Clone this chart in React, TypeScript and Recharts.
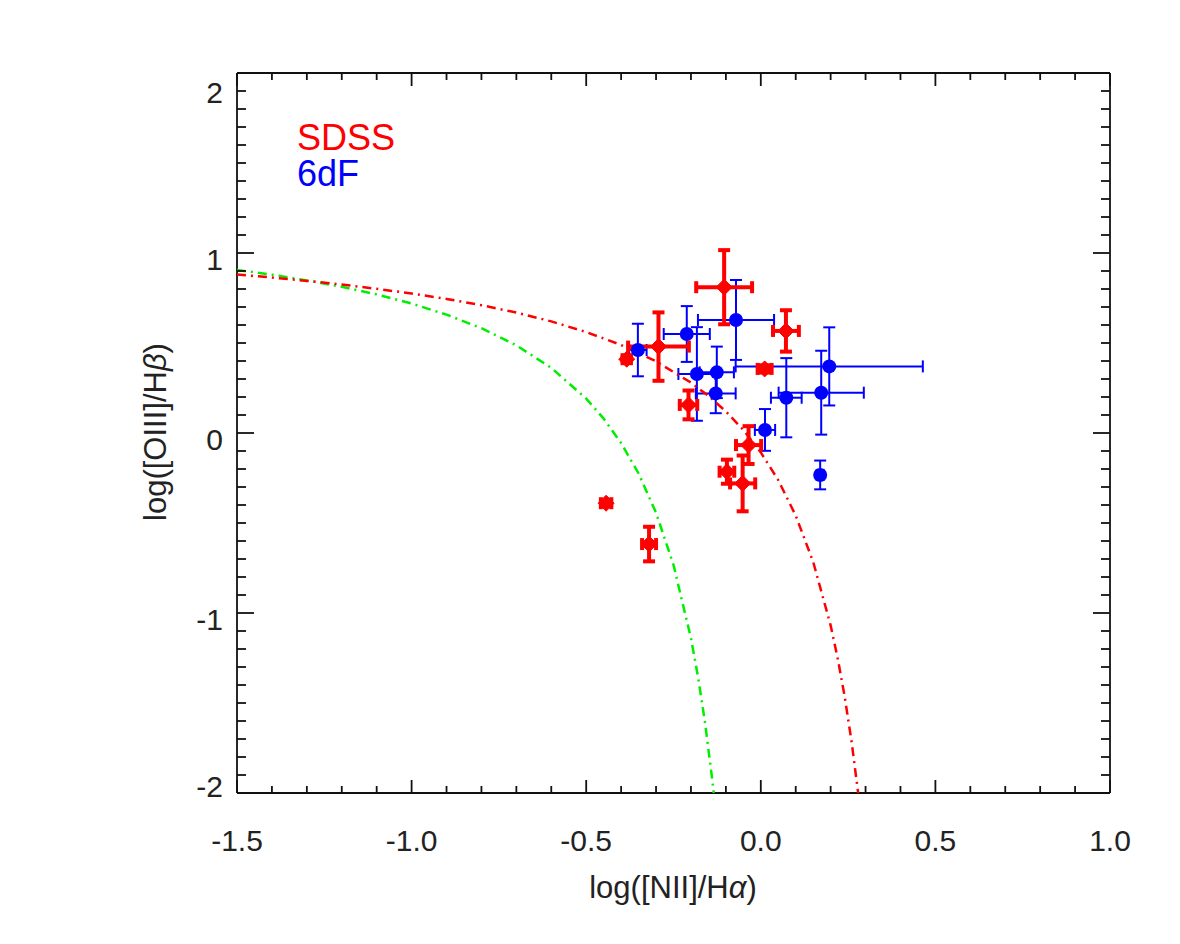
import React from 'react';
import { ScatterChart, Scatter, XAxis, YAxis, ErrorBar } from 'recharts';

// ---- data ----
const sdssX = [-0.105, 0.072, -0.293, -0.384, 0.011, -0.207, -0.035, -0.097, -0.052, -0.443, -0.320];
const sdssY = [0.81, 0.567, 0.48, 0.41, 0.356, 0.156, -0.067, -0.215, -0.28, -0.39, -0.617];
const sdssEx = [0.08, 0.037, 0.087, 0.012, 0.02, 0.025, 0.036, 0.021, 0.036, 0.015, 0.02];
const sdssEy = [0.206, 0.115, 0.19, 0.012, 0.02, 0.08, 0.105, 0.067, 0.155, 0.012, 0.096];

const sixdfX = [-0.352, -0.212, -0.071, -0.183, -0.126, -0.129, 0.012, 0.073, 0.173, 0.196, 0.170];
const sixdfY = [0.461, 0.55, 0.628, 0.328, 0.337, 0.22, 0.017, 0.196, 0.224, 0.37, -0.233];
const sixdfEx = [0.025, 0.066, 0.109, 0.053, 0.049, 0.057, 0.029, 0.044, 0.122, 0.268, 0.01];
const sixdfEy = [0.146, 0.155, 0.222, 0.26, 0.143, 0.11, 0.116, 0.22, 0.233, 0.217, 0.08];

// red dash-dot demarcation curve (upper)
const redCurveX = [-1.5, -1.4, -1.3, -1.2, -1.1, -1.0, -0.9, -0.8, -0.7, -0.6, -0.5, -0.4, -0.3, -0.2, -0.15, -0.1, -0.05, 0.0, 0.05, 0.1, 0.15, 0.2, 0.22, 0.24, 0.26, 0.2788];
const redCurveY = [0.880, 0.864, 0.845, 0.825, 0.801, 0.775, 0.745, 0.710, 0.669, 0.620, 0.561, 0.489, 0.398, 0.280, 0.206, 0.120, 0.017, -0.108, -0.262, -0.459, -0.716, -1.069, -1.250, -1.462, -1.715, -2.0];

// green dash-dot demarcation curve (lower)
const greenCurveX = [-1.5, -1.4, -1.3, -1.2, -1.1, -1.0, -0.9, -0.8, -0.7, -0.6, -0.5, -0.45, -0.4, -0.35, -0.3, -0.25, -0.2, -0.18, -0.16, -0.14, -0.1348];
const greenCurveY = [0.906, 0.879, 0.848, 0.812, 0.770, 0.719, 0.658, 0.582, 0.487, 0.362, 0.191, 0.080, -0.056, -0.225, -0.443, -0.733, -1.140, -1.352, -1.605, -1.911, -2.0];

const xTicks = [-1.5, -1.4, -1.3, -1.2, -1.1, -1.0, -0.9, -0.8, -0.7, -0.6, -0.5, -0.4, -0.3, -0.2, -0.1, 0.0, 0.1, 0.2, 0.3, 0.4, 0.5, 0.6, 0.7, 0.8, 0.9, 1.0];
const yTicks = [-2.0, -1.9, -1.8, -1.7, -1.6, -1.5, -1.4, -1.3, -1.2, -1.1, -1.0, -0.9, -0.8, -0.7, -0.6, -0.5, -0.4, -0.3, -0.2, -0.1, 0.0, 0.1, 0.2, 0.3, 0.4, 0.5, 0.6, 0.7, 0.8, 0.9, 1.0, 1.1, 1.2, 1.3, 1.4, 1.5, 1.6, 1.7, 1.8, 1.9, 2.0];

const legendLabels = ['SDSS', '6dF'];

// ---- build tables ----
const sdssData = sdssX.map((x, i) => ({ x, y: sdssY[i], ex: sdssEx[i], ey: sdssEy[i] }));
const sixdfData = sixdfX.map((x, i) => ({ x, y: sixdfY[i], ex: sixdfEx[i], ey: sixdfEy[i] }));
const redCurve = redCurveX.map((x, i) => ({ x, y: redCurveY[i] }));
const greenCurve = greenCurveX.map((x, i) => ({ x, y: greenCurveY[i] }));

const W = 1180;
const H = 944;
const M = { top: 72, right: 69, bottom: 150, left: 236 };
const FONT = '"Liberation Sans", Arial, Helvetica, sans-serif';
const TXT = '#222';
const AX = '#111';
const AXW = 1.8;

const isMajor = (v: number, step: number) => Math.abs(v / step - Math.round(v / step)) < 1e-6;

const BottomTick = (props: any) => {
  const { x, y, payload } = props;
  const v = payload.value as number;
  const major = isMajor(v, 0.5);
  return (
    <g>
      <line x1={x} y1={y} x2={x} y2={y - (major ? 13 : 7)} stroke={AX} strokeWidth={AXW} />
      {major && (
        <text x={x} y={y + 47} textAnchor="middle" dominantBaseline="central" fontFamily={FONT} fontSize={30} fill={TXT}>
          {v.toFixed(1)}
        </text>
      )}
    </g>
  );
};

const TopTick = (props: any) => {
  const { x, y, payload } = props;
  const v = payload.value as number;
  const major = isMajor(v, 0.5);
  return <line x1={x} y1={y} x2={x} y2={y + (major ? 13 : 7)} stroke={AX} strokeWidth={AXW} />;
};

const LeftTick = (props: any) => {
  const { x, y, payload } = props;
  const v = payload.value as number;
  const major = isMajor(v, 1);
  let dy = 6;
  if (Math.abs(v - 2) < 1e-6) dy = 19;
  if (Math.abs(v + 2) < 1e-6) dy = -7;
  return (
    <g>
      <line x1={x} y1={y} x2={x + (major ? 17 : 9)} y2={y} stroke={AX} strokeWidth={AXW} />
      {major && (
        <text x={x - 14} y={y + dy} textAnchor="end" dominantBaseline="central" fontFamily={FONT} fontSize={30} fill={TXT}>
          {String(Math.round(v))}
        </text>
      )}
    </g>
  );
};

const RightTick = (props: any) => {
  const { x, y, payload } = props;
  const v = payload.value as number;
  const major = isMajor(v, 1);
  return <line x1={x} y1={y} x2={x - (major ? 17 : 9)} y2={y} stroke={AX} strokeWidth={AXW} />;
};

const Diamond = (props: any) => {
  const { cx, cy } = props;
  if (cx == null || cy == null) return <g />;
  const r = 8;
  return <polygon points={`${cx},${cy - r} ${cx + r},${cy} ${cx},${cy + r} ${cx - r},${cy}`} fill="#ff0000" stroke="#ff0000" strokeWidth={1} />;
};

const Dot = (props: any) => {
  const { cx, cy } = props;
  if (cx == null || cy == null) return <g />;
  return <circle cx={cx} cy={cy} r={7} fill="#0000ff" />;
};

const NoShape = () => <g />;

export default function App() {
  return (
    <div style={{ position: 'absolute', left: 0, top: 0, width: W, height: H, background: '#fff' }}>
      <ScatterChart width={W} height={H} margin={M}>
        <XAxis
          xAxisId="b"
          type="number"
          dataKey="x"
          domain={[-1.5, 1.0]}
          allowDataOverflow
          ticks={xTicks}
          interval={0}
          height={1}
          tickSize={0}
          tickMargin={0}
          tickLine={false}
          tick={<BottomTick />}
          axisLine={{ stroke: AX, strokeWidth: AXW }}
        />
        <XAxis
          xAxisId="t"
          orientation="top"
          type="number"
          dataKey="x"
          domain={[-1.5, 1.0]}
          allowDataOverflow
          ticks={xTicks}
          interval={0}
          height={1}
          tickSize={0}
          tickMargin={0}
          tickLine={false}
          tick={<TopTick />}
          axisLine={{ stroke: AX, strokeWidth: AXW }}
        />
        <YAxis
          yAxisId="l"
          type="number"
          dataKey="y"
          domain={[-2, 2]}
          allowDataOverflow
          ticks={yTicks}
          interval={0}
          width={1}
          tickSize={0}
          tickMargin={0}
          tickLine={false}
          tick={<LeftTick />}
          axisLine={{ stroke: AX, strokeWidth: AXW }}
        />
        <YAxis
          yAxisId="r"
          orientation="right"
          type="number"
          dataKey="y"
          domain={[-2, 2]}
          allowDataOverflow
          ticks={yTicks}
          interval={0}
          width={1}
          tickSize={0}
          tickMargin={0}
          tickLine={false}
          tick={<RightTick />}
          axisLine={{ stroke: AX, strokeWidth: AXW }}
        />
        <Scatter
          xAxisId="t"
          yAxisId="r"
          data={greenCurve}
          line={{ stroke: '#00ee00', strokeWidth: 2.5, strokeDasharray: '9 5 2 5' }}
          lineType="joint"
          shape={<NoShape />}
          isAnimationActive={false}
        />
        <Scatter
          xAxisId="b"
          yAxisId="l"
          data={redCurve}
          line={{ stroke: '#ff0000', strokeWidth: 2.5, strokeDasharray: '9 5 2 5' }}
          lineType="joint"
          shape={<NoShape />}
          isAnimationActive={false}
        />
        <Scatter xAxisId="b" yAxisId="l" data={sixdfData} shape={<Dot />} isAnimationActive={false}>
          <ErrorBar dataKey="ex" direction="x" width={6} strokeWidth={2} stroke="#0000ff" isAnimationActive={false} />
          <ErrorBar dataKey="ey" direction="y" width={6} strokeWidth={2} stroke="#0000ff" isAnimationActive={false} />
        </Scatter>
        <Scatter xAxisId="b" yAxisId="l" data={sdssData} shape={<Diamond />} isAnimationActive={false}>
          <ErrorBar dataKey="ex" direction="x" width={6} strokeWidth={4} stroke="#ff0000" isAnimationActive={false} />
          <ErrorBar dataKey="ey" direction="y" width={6} strokeWidth={4} stroke="#ff0000" isAnimationActive={false} />
        </Scatter>
      </ScatterChart>
      <svg width={W} height={H} style={{ position: 'absolute', left: 0, top: 0, pointerEvents: 'none' }}>
        <text x={297} y={150} fontFamily={FONT} fontSize={36} fill="#ff0000">{legendLabels[0]}</text>
        <text x={297} y={186} fontFamily={FONT} fontSize={36} fill="#0000ff">{legendLabels[1]}</text>
        <text x={673} y={887} textAnchor="middle" dominantBaseline="central" fontFamily={FONT} fontSize={31} fill={TXT}>
          log([NII]/H<tspan fontStyle="italic">α</tspan>)
        </text>
        <text
          x={155}
          y={432}
          textAnchor="middle"
          dominantBaseline="central"
          fontFamily={FONT}
          fontSize={31}
          fill={TXT}
          transform="rotate(-90 155 432)"
        >
          log([OIII]/H<tspan fontStyle="italic">β</tspan>)
        </text>
      </svg>
    </div>
  );
}
